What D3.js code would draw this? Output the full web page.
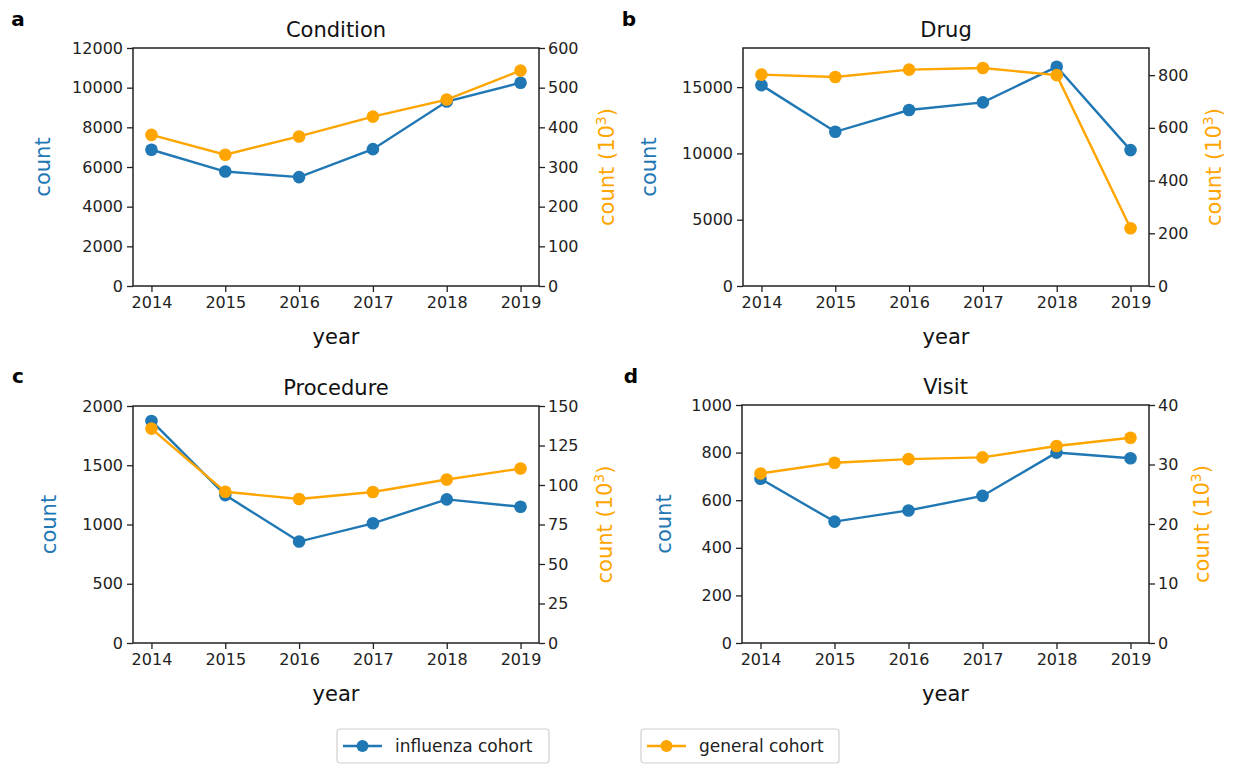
<!DOCTYPE html>
<html>
<head>
<meta charset="utf-8">
<script src="https://cdn.jsdelivr.net/npm/d3@7"></script>
<style>
  body { margin: 0; background: #fff; }
  svg text { font-family: "DejaVu Sans", sans-serif; }
</style>
</head>
<body>
<div id="chart"></div>
<script>
// data
const years = [2014, 2015, 2016, 2017, 2018, 2019];

const conditionFlu = [6870, 5770, 5490, 6900, 9300, 10250];
const conditionGeneral = [381, 331, 377, 427, 470, 543];       // x 10^3
const drugFlu = [15150, 11630, 13270, 13850, 16530, 10250];
const drugGeneral = [802, 793, 821, 827, 800, 219];
const procedureFlu = [1874, 1248, 856, 1010, 1212, 1150];
const procedureGeneral = [135.7, 95.7, 91.1, 95.6, 103.5, 110.4];
const visitFlu = [690, 510, 557, 618, 800, 776];
const visitGeneral = [28.5, 30.3, 30.9, 31.2, 33.1, 34.5];

const conditionLeftTicks = [0, 2000, 4000, 6000, 8000, 10000, 12000];
const conditionRightTicks = [0, 100, 200, 300, 400, 500, 600];
const drugLeftTicks = [0, 5000, 10000, 15000];
const drugRightTicks = [0, 200, 400, 600, 800];
const procedureLeftTicks = [0, 500, 1000, 1500, 2000];
const procedureRightTicks = [0, 25, 50, 75, 100, 125, 150];
const visitLeftTicks = [0, 200, 400, 600, 800, 1000];
const visitRightTicks = [0, 10, 20, 30, 40];

const seriesNames = ["influenza cohort", "general cohort"];

const blue = "#1f77b4";
const orange = "#ffa500";

const width = 1235, height = 765;

const svg = d3.select("#chart")
    .append("svg")
    .attr("width", width)
    .attr("height", height);

const panels = [
    {letter: "a", title: "Condition", flu: conditionFlu, gen: conditionGeneral,
        leftTicks: conditionLeftTicks, rightTicks: conditionRightTicks,
        leftMax: 12000, rightMax: 600,
        box: {x0: 133, x1: 539, y0: 48, y1: 286}, letterPos: [18, 19], countX: 43, rightLabelX: 607},
    {letter: "b", title: "Drug", flu: drugFlu, gen: drugGeneral,
        leftTicks: drugLeftTicks, rightTicks: drugRightTicks,
        leftMax: 17950, rightMax: 903,
        box: {x0: 743, x1: 1149, y0: 48, y1: 286}, letterPos: [629, 19], countX: 649, rightLabelX: 1214},
    {letter: "c", title: "Procedure", flu: procedureFlu, gen: procedureGeneral,
        leftTicks: procedureLeftTicks, rightTicks: procedureRightTicks,
        leftMax: 2000, rightMax: 150,
        box: {x0: 133, x1: 539, y0: 406, y1: 643}, letterPos: [18, 376], countX: 49, rightLabelX: 605},
    {letter: "d", title: "Visit", flu: visitFlu, gen: visitGeneral,
        leftTicks: visitLeftTicks, rightTicks: visitRightTicks,
        leftMax: 1000, rightMax: 40,
        box: {x0: 742, x1: 1149, y0: 405, y1: 643}, letterPos: [631, 376], countX: 664, rightLabelX: 1202}
];

function styleAxis(g) {
    g.selectAll(".domain").remove();
    g.selectAll(".tick line").attr("stroke", "#222").attr("stroke-width", 1.3);
    g.selectAll(".tick text").attr("fill", "#222").style("font-size", "16px");
}

panels.forEach(p => {
    const b = p.box;
    const x = d3.scalePoint().domain(years).range([b.x0, b.x1]).padding(0.25);
    const yL = d3.scaleLinear().domain([0, p.leftMax]).range([b.y1, b.y0]);
    const yR = d3.scaleLinear().domain([0, p.rightMax]).range([b.y1, b.y0]);

    const g = svg.append("g");

    // axes
    g.append("g")
        .attr("transform", `translate(0,${b.y1})`)
        .call(d3.axisBottom(x).tickSize(6).tickPadding(5))
        .call(styleAxis);
    g.append("g")
        .attr("transform", `translate(${b.x0},0)`)
        .call(d3.axisLeft(yL).tickValues(p.leftTicks).tickSize(6).tickPadding(4).tickFormat(d3.format("d")))
        .call(styleAxis);
    g.append("g")
        .attr("transform", `translate(${b.x1},0)`)
        .call(d3.axisRight(yR).tickValues(p.rightTicks).tickSize(6).tickPadding(3).tickFormat(d3.format("d")))
        .call(styleAxis);

    // frame
    g.append("rect")
        .attr("x", b.x0).attr("y", b.y0)
        .attr("width", b.x1 - b.x0).attr("height", b.y1 - b.y0)
        .attr("fill", "none").attr("stroke", "#222").attr("stroke-width", 1.5);

    // lines
    const drawSeries = (vals, yScale, color) => {
        const line = d3.line().x((d, i) => x(years[i])).y(d => yScale(d));
        g.append("path")
            .datum(vals)
            .attr("fill", "none")
            .attr("stroke", color)
            .attr("stroke-width", 2.4)
            .attr("d", line);
        g.selectAll(null)
            .data(vals)
            .join("circle")
            .attr("cx", (d, i) => x(years[i]))
            .attr("cy", d => yScale(d))
            .attr("r", 6.3)
            .attr("fill", color);
    };
    drawSeries(p.flu, yL, blue);
    drawSeries(p.gen, yR, orange);

    // titles and labels
    g.append("text")
        .attr("x", (b.x0 + b.x1) / 2).attr("y", b.y0 - 11)
        .attr("text-anchor", "middle")
        .style("font-size", "21px").attr("fill", "#111")
        .text(p.title);

    g.append("text")
        .attr("x", p.letterPos[0]).attr("y", p.letterPos[1] + 7)
        .attr("text-anchor", "middle")
        .style("font-size", "20px").style("font-weight", "bold")
        .text(p.letter);

    g.append("text")
        .attr("x", (b.x0 + b.x1) / 2).attr("y", b.y1 + 58)
        .attr("text-anchor", "middle")
        .style("font-size", "21px").attr("fill", "#111")
        .text("year");

    const cy = (b.y0 + b.y1) / 2;
    g.append("text")
        .attr("transform", `translate(${p.countX + 7},${cy}) rotate(-90)`)
        .attr("text-anchor", "middle")
        .style("font-size", "21px").attr("fill", blue)
        .text("count");

    const rl = g.append("text")
        .attr("transform", `translate(${p.rightLabelX + 7},${cy}) rotate(-90)`)
        .attr("text-anchor", "middle")
        .style("font-size", "21px").attr("fill", orange);
    rl.append("tspan").text("count (10");
    rl.append("tspan").attr("dy", -8).style("font-size", "14px").text("3");
    rl.append("tspan").attr("dy", 8).text(")");
});

// legend
const legendItems = [
    {name: seriesNames[0], color: blue, x: 337, w: 212},
    {name: seriesNames[1], color: orange, x: 641, w: 198}
];
legendItems.forEach(it => {
    const lg = svg.append("g").attr("transform", `translate(${it.x},729)`);
    lg.append("rect")
        .attr("width", it.w).attr("height", 34).attr("rx", 3)
        .attr("fill", "#fff").attr("stroke", "#d0d0d0").attr("stroke-width", 1.2);
    lg.append("line")
        .attr("x1", 6).attr("x2", 45).attr("y1", 17).attr("y2", 17)
        .attr("stroke", it.color).attr("stroke-width", 2.4);
    lg.append("circle").attr("cx", 25.5).attr("cy", 17).attr("r", 6).attr("fill", it.color);
    lg.append("text")
        .attr("x", 58).attr("y", 23)
        .style("font-size", "17px").attr("fill", "#222")
        .text(it.name);
});
</script>
</body>
</html>
